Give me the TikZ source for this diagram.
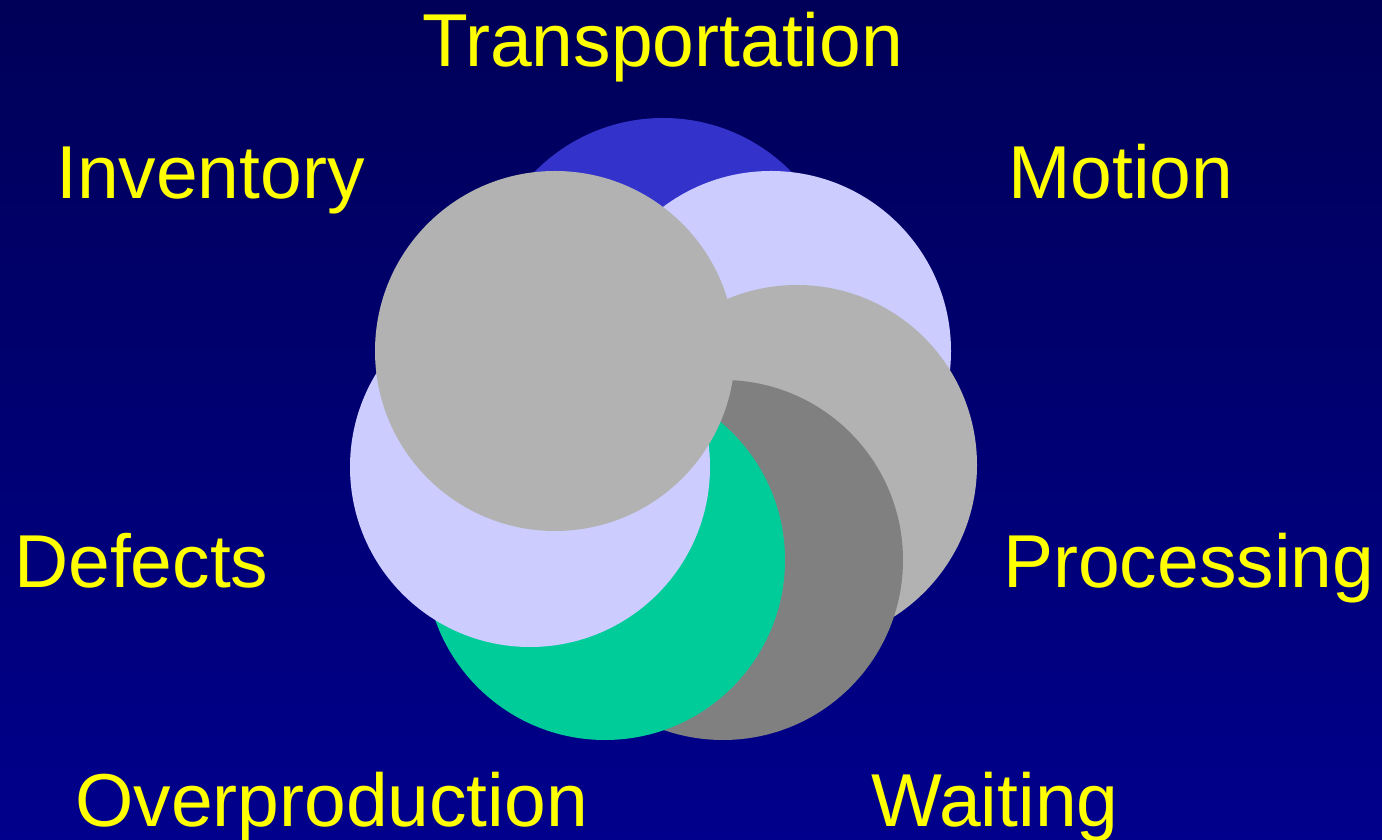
\documentclass[tikz,border=0pt]{standalone}
\usepackage{fontspec}
\setmainfont{Liberation Sans}
\definecolor{bgtop}{RGB}{0,0,88}
\definecolor{bgbot}{RGB}{0,0,140}
\definecolor{cblue}{RGB}{51,51,204}
\definecolor{clav}{RGB}{204,204,255}
\definecolor{cgray}{RGB}{178,178,178}
\definecolor{cdark}{RGB}{128,128,128}
\definecolor{cgreen}{RGB}{0,204,153}
\definecolor{tyellow}{RGB}{255,255,0}
\tikzset{
  lbl/.style={anchor=base west, inner sep=0pt, text=tyellow, font=\fontsize{75}{80}\selectfont},
  disc/.style={circle, minimum size=360pt, inner sep=0pt}
}
\begin{document}
\begin{tikzpicture}[x=1pt,y=1pt]
\shade[top color=bgtop, bottom color=bgbot] (0,0) rectangle (1382,840);
\useasboundingbox (0,0) rectangle (1382,840);
% circles (y = 840 - pixel y)
\node[disc, fill=cblue]  (c1) at (663,542) {};
\node[disc, fill=clav]   (c2) at (771,489) {};
\node[disc, fill=cgray]  (c3) at (797,375) {};
\node[disc, fill=cdark]  (c4) at (723,280) {};
\node[disc, fill=cgreen] (c5) at (605,280) {};
\node[disc, fill=clav]   (c6) at (530,373) {};
\node[disc, fill=cgray]  (c7) at (555,489) {};
% labels
\node[lbl] (t1) at (422,773) {Transportation};
\node[lbl] (t2) at (56,641) {Inventory};
\node[lbl] (t3) at (1008,641) {Motion};
\node[lbl] (t4) at (14,252) {Defects};
\node[lbl] (t5) at (1003,252) {Processing};
\node[lbl] (t6) at (75,13) {Overproduction};
\node[lbl] (t7) at (871,13) {Waiting};
\end{tikzpicture}
\end{document}
